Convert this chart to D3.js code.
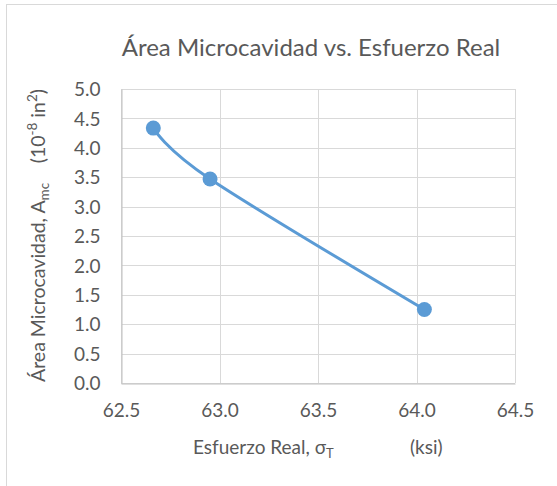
<!DOCTYPE html>
<html lang="en">
<head>
    <meta charset="UTF-8">
    <title>Área Microcavidad vs. Esfuerzo Real</title>
    <script src="https://d3js.org/d3.v7.min.js"></script>
    <style>
        body { margin: 0; background: #fff; }
        text { font-family: Lato, "Open Sans", sans-serif; fill: #595959; }
    </style>
</head>
<body>
    <div id="chart"></div>
    <script>
        // Data
        const esfuerzo = [62.664, 62.952, 64.04];   // ksi
        const area = [4.335, 3.47, 1.25];            // 10^-8 in^2
        const xTicks = [62.5, 63.0, 63.5, 64.0, 64.5];
        const yTicks = [0, 0.5, 1, 1.5, 2, 2.5, 3, 3.5, 4, 4.5, 5];

        const width = 557;
        const height = 486;
        const margin = {top: 89, right: 42, bottom: 103, left: 121};

        const svg = d3.select("#chart")
            .append("svg")
            .attr("width", width)
            .attr("height", height);

        // outer chart frame (cropped at right and bottom)
        svg.append("rect")
            .attr("x", 6.5).attr("y", 4.5)
            .attr("width", 700).attr("height", 700)
            .attr("fill", "none")
            .attr("stroke", "#d9d9d9");

        const x = d3.scaleLinear()
            .domain([62.5, 64.5])
            .range([margin.left, width - margin.right]);
        const y = d3.scaleLinear()
            .domain([0, 5])
            .range([height - margin.bottom, margin.top]);

        // gridlines
        svg.append("g")
            .selectAll("line")
            .data(yTicks)
            .join("line")
            .attr("x1", x(62.5)).attr("x2", x(64.5))
            .attr("y1", d => Math.round(y(d)) + 0.5)
            .attr("y2", d => Math.round(y(d)) + 0.5)
            .attr("stroke", "#d9d9d9");
        svg.append("g")
            .selectAll("line")
            .data(xTicks)
            .join("line")
            .attr("y1", y(0)).attr("y2", y(5))
            .attr("x1", d => Math.round(x(d)) + 0.5)
            .attr("x2", d => Math.round(x(d)) + 0.5)
            .attr("stroke", "#d9d9d9");

        // axes (no tick marks, only labels)
        const xAxis = svg.append("g")
            .attr("transform", `translate(0,${Math.round(y(0)) + 0.5})`)
            .call(d3.axisBottom(x).tickValues(xTicks).tickFormat(d3.format(".1f")).tickSize(0).tickPadding(20));
        const yAxis = svg.append("g")
            .attr("transform", `translate(${Math.round(x(62.5)) + 0.5},0)`)
            .call(d3.axisLeft(y).tickValues(yTicks).tickFormat(d3.format(".1f")).tickSize(0).tickPadding(21));
        [xAxis, yAxis].forEach(g => {
            g.select(".domain").attr("stroke", "#bfbfbf");
            g.selectAll("text").attr("font-size", 19).style("fill", "#595959");
        });
        yAxis.selectAll("text").attr("dy", "0.35em");

        // smoothed line + markers
        const pts = esfuerzo.map((v, i) => [v, area[i]]);
        const line = d3.line()
            .x(d => x(d[0]))
            .y(d => y(d[1]))
            .curve(d3.curveCardinal.tension(0));
        svg.append("path")
            .datum(pts)
            .attr("d", line)
            .attr("fill", "none")
            .attr("stroke", "#5b9bd5")
            .attr("stroke-width", 3)
            .attr("stroke-linecap", "round");
        svg.append("g")
            .selectAll("circle")
            .data(pts)
            .join("circle")
            .attr("cx", d => x(d[0]))
            .attr("cy", d => y(d[1]))
            .attr("r", 7.5)
            .attr("fill", "#5b9bd5");

        // title
        svg.append("text")
            .attr("x", 311).attr("y", 56)
            .attr("text-anchor", "middle")
            .attr("font-size", 24)
            .text("Área Microcavidad vs. Esfuerzo Real");

        // x axis title
        const xt = svg.append("text")
            .attr("x", 193).attr("y", 454)
            .attr("font-size", 19);
        xt.append("tspan").text("Esfuerzo Real, σ");
        xt.append("tspan").attr("font-size", 13).attr("dy", 4).text("T");
        svg.append("text")
            .attr("x", 410).attr("y", 454)
            .attr("font-size", 19)
            .text("(ksi)");

        // y axis title
        const yt = svg.append("text")
            .attr("transform", "translate(45,382) rotate(-90)")
            .attr("font-size", 19.5);
        yt.append("tspan").text("Área Microcavidad, A");
        yt.append("tspan").attr("font-size", 13.5).attr("dy", 4).text("mc");
        const yu = svg.append("text")
            .attr("transform", "translate(45,89) rotate(-90)")
            .attr("text-anchor", "end")
            .attr("font-size", 19.5);
        yu.append("tspan").text("(10");
        yu.append("tspan").attr("font-size", 13.5).attr("dy", -8).text("-8");
        yu.append("tspan").attr("dy", 8).text(" in");
        yu.append("tspan").attr("font-size", 13.5).attr("dy", -8).text("2");
        yu.append("tspan").attr("dy", 8).text(")");
    </script>
</body>
</html>
